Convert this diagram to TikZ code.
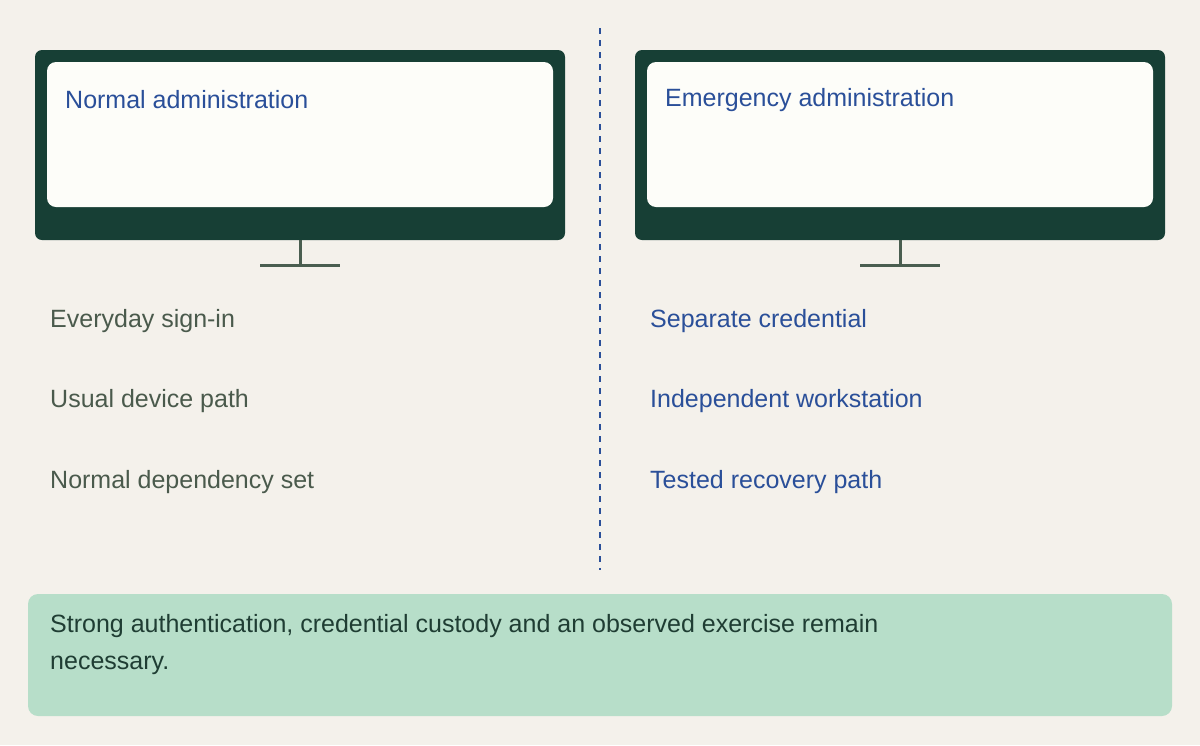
\documentclass[tikz,border=0pt]{standalone}
\usepackage{fontspec}
\setmainfont{Liberation Sans}
\definecolor{bg}{HTML}{F4F1EB}
\definecolor{mon}{HTML}{173F35}
\definecolor{scr}{HTML}{FDFDF9}
\definecolor{stand}{HTML}{4A5E50}
\definecolor{blu}{HTML}{2A4F99}
\definecolor{gry}{HTML}{4A5A4C}
\definecolor{note}{HTML}{B7DEC9}
\definecolor{notetxt}{HTML}{1F3D33}
\begin{document}
\begin{tikzpicture}[x=1pt,y=-1pt,
  lbl/.style={anchor=west,inner sep=0pt,font=\fontsize{25}{30}\selectfont},
  monitor/.style={fill=mon,rounded corners=7pt,draw=none},
  screen/.style={fill=scr,rounded corners=9pt,draw=none},
  stnd/.style={draw=stand,line width=3pt}]
\fill[bg] (0,0) rectangle (1200,745);
\useasboundingbox (0,0) rectangle (1200,745);
\draw[blu,line width=2.5pt,dash pattern=on 6pt off 6pt] (600,28) -- (600,570);
\foreach \o/\t in {0/Normal administration,600/Emergency administration}{
  \fill[monitor] (35+\o,50) rectangle (565+\o,240);
  \fill[screen] (47+\o,62) rectangle (553+\o,207);
  \draw[stnd] (300+\o,240) -- (300+\o,265);
  \draw[stnd] (260+\o,265) -- (340+\o,265);
  \node[lbl,text=blu] (t\o) at (65+\o,100) {\t};
}
\node[lbl,text=gry] (l1) at (50,321) {Everyday sign-in};
\node[lbl,text=gry] (l2) at (50,401) {Usual device path};
\node[lbl,text=gry] (l3) at (50,482) {Normal dependency set};
\node[lbl,text=blu] (r1) at (650,321) {Separate credential};
\node[lbl,text=blu] (r2) at (650,401) {Independent workstation};
\node[lbl,text=blu] (r3) at (650,482) {Tested recovery path};
\fill[note,rounded corners=10pt] (28,594) rectangle (1172,716);
\node[lbl,text=notetxt,anchor=north west,align=left,font=\fontsize{25}{37}\selectfont] (n) at (50,614) {Strong authentication, credential custody and an observed exercise remain\\necessary.};
\end{tikzpicture}
\end{document}
